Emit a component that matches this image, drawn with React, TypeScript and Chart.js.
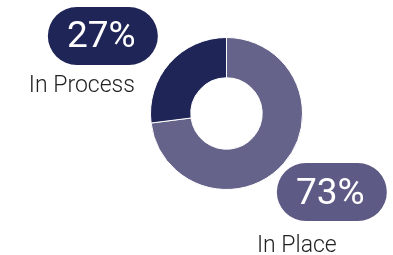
import React, { useEffect, useRef } from "react";
import { Chart, registerables } from "chart.js";

Chart.register(...registerables);

const categories = ["In Place", "In Process"];
const values = [73, 27];
const sliceColors = ["#656389", "#1f2557"];
const pillColors = ["#5d5a85", "#1f2557"];

// label placement relative to doughnut centre, in units of outer radius
const pillOffsets = [
  { dx: 1.386, dy: 1.033 },
  { dx: -1.627, dy: -1.02 },
];
const labelShift = [
  { dx: -35, dy: 59.5 },
  { dx: -21, dy: 56.5 },
];

const labelPlugin = {
  id: "pillLabels",
  afterDatasetsDraw(chart: any) {
    const meta = chart.getDatasetMeta(0);
    const arc = meta.data[0];
    if (!arc) return;
    const cx = arc.x;
    const cy = arc.y;
    const r = arc.outerRadius;
    const ctx = chart.ctx;
    ctx.save();
    values.forEach((v, i) => {
      const off = pillOffsets[i];
      const px = cx + off.dx * r;
      const py = cy + off.dy * r;
      const w = 110;
      const h = 58;
      const rad = h / 2;
      ctx.fillStyle = pillColors[i];
      ctx.beginPath();
      ctx.moveTo(px - w / 2 + rad, py - h / 2);
      ctx.lineTo(px + w / 2 - rad, py - h / 2);
      ctx.arc(px + w / 2 - rad, py, rad, -Math.PI / 2, Math.PI / 2);
      ctx.lineTo(px - w / 2 + rad, py + h / 2);
      ctx.arc(px - w / 2 + rad, py, rad, Math.PI / 2, (3 * Math.PI) / 2);
      ctx.closePath();
      ctx.fill();
      ctx.fillStyle = "#ffffff";
      ctx.font = "400 37px Roboto";
      ctx.textAlign = "center";
      ctx.textBaseline = "alphabetic";
      ctx.fillText(v + "%", px - 1.5, py + 11.5);
      ctx.fillStyle = "#222222";
      ctx.font = "300 23px Roboto";
      ctx.fillText(categories[i], px + labelShift[i].dx, py + labelShift[i].dy);
    });
    ctx.restore();
  },
};

export default function App() {
  const ref = useRef<HTMLCanvasElement>(null);
  useEffect(() => {
    if (!ref.current) return;
    const chart = new Chart(ref.current, {
      type: "doughnut",
      data: {
        labels: categories,
        datasets: [
          {
            data: values,
            backgroundColor: sliceColors,
            borderColor: "#ffffff",
            borderWidth: 1,
          },
        ],
      },
      options: {
        animation: false,
        responsive: false,
        maintainAspectRatio: false,
        cutout: "47%",
        layout: { padding: { left: 150, right: 90, top: 37, bottom: 65 } },
        plugins: { legend: { display: false }, tooltip: { enabled: false } },
      },
      plugins: [labelPlugin],
    });
    return () => chart.destroy();
  }, []);
  return (
    <div style={{ position: "fixed", left: 0, top: 0, width: 393, height: 255, background: "#fff" }}>
      <canvas ref={ref} width={393} height={255} style={{ width: 393, height: 255 }} />
    </div>
  );
}
